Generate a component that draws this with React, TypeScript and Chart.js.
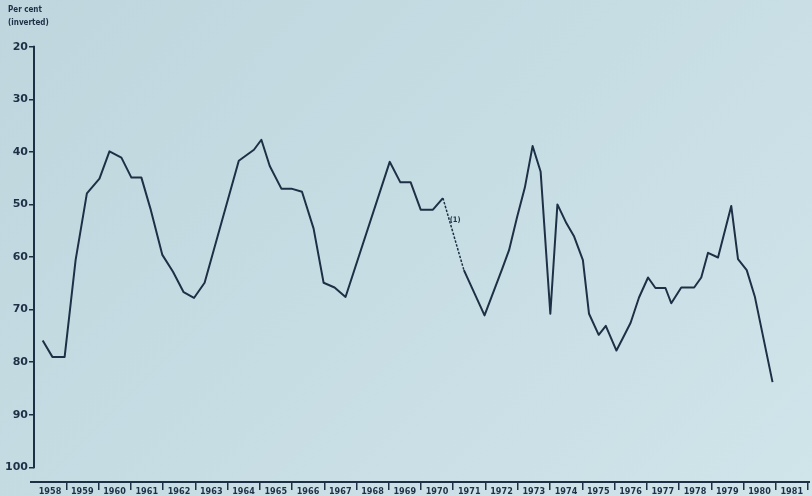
import React, { useEffect, useRef } from 'react';
import { Chart, registerables } from 'chart.js';

Chart.register(...registerables);

const periods = [
  1958.27, 1958.57, 1958.95, 1959.29, 1959.64, 1960.03, 1960.34, 1960.71, 1961.02, 1961.33,
  1961.61, 1961.98, 1962.31, 1962.64, 1962.96, 1963.29, 1964.35, 1964.82, 1965.05, 1965.31,
  1965.67, 1965.98, 1966.31, 1966.67, 1966.98, 1967.32, 1967.66, 1969.03, 1969.36, 1969.68,
  1969.99, 1970.37, 1970.68, 1971.33, 1971.97, 1972.52, 1972.73, 1972.98, 1973.22, 1973.46,
  1973.71, 1974.01, 1974.23, 1974.51, 1974.74, 1975.02, 1975.21, 1975.51, 1975.73, 1976.06,
  1976.26, 1976.5, 1976.76, 1977.04, 1977.27, 1977.58, 1977.76, 1978.07, 1978.47, 1978.69,
  1978.9, 1979.21, 1979.62, 1979.83, 1980.1, 1980.35, 1980.9,
];
const values = [
  75.9, 79.0, 79.0, 60.6, 47.9, 45.1, 39.9, 41.1, 44.9, 44.9,
  50.8, 59.6, 62.8, 66.7, 67.8, 64.9, 41.7, 39.6, 37.7, 42.7,
  47.0, 47.0, 47.6, 54.6, 64.9, 65.8, 67.6, 41.9, 45.8, 45.8,
  51.0, 51.0, 48.8, 62.5, 71.1, 62.2, 58.7, 52.4, 46.8, 38.9,
  43.8, 70.8, 50.0, 53.6, 56.0, 60.6, 70.8, 74.8, 73.1, 77.8,
  75.4, 72.5, 67.7, 63.9, 65.9, 65.9, 68.8, 65.8, 65.8, 63.9,
  59.2, 60.1, 50.3, 60.4, 62.5, 67.5, 83.8,
];

const yearTicks = [
  1958, 1959, 1960, 1961, 1962, 1963, 1964, 1965, 1966, 1967, 1968, 1969, 1970,
  1971, 1972, 1973, 1974, 1975, 1976, 1977, 1978, 1979, 1980, 1981, 1982,
];
const yearLabels = [
  '1958', '1959', '1960', '1961', '1962', '1963', '1964', '1965', '1966', '1967', '1968', '1969', '1970',
  '1971', '1972', '1973', '1974', '1975', '1976', '1977', '1978', '1979', '1980', '1981', '',
];
const valueTicks = [20, 30, 40, 50, 60, 70, 80, 90, 100];

const yTitle = ['Per cent', '(inverted)'];
const dashedFrom = 1970.68;
const dashedTo = 1971.33;
const noteText = '(1)';
const noteYear = 1971.06;
const noteValue = 53.0;

const INK = '#1e3045';
const FONT = "'DejaVu Sans Condensed', 'DejaVu Sans', sans-serif";

const axisPlugin = {
  id: 'handAxes',
  beforeDatasetsDraw(chart: any) {
    const { ctx, chartArea, scales } = chart;
    const y = scales.y;
    ctx.save();
    ctx.strokeStyle = INK;
    ctx.lineWidth = 2;
    ctx.beginPath();
    ctx.moveTo(chartArea.left, y.getPixelForValue(valueTicks[0]) - 1);
    ctx.lineTo(chartArea.left, y.getPixelForValue(valueTicks[valueTicks.length - 1]) + 1);
    ctx.stroke();
    ctx.beginPath();
    ctx.moveTo(chartArea.left - 4, chartArea.bottom);
    ctx.lineTo(chartArea.right + 2, chartArea.bottom);
    ctx.stroke();
    ctx.restore();
  },
  afterDraw(chart: any) {
    const { ctx, scales } = chart;
    ctx.save();
    ctx.fillStyle = INK;
    ctx.textBaseline = 'top';
    ctx.textAlign = 'left';
    ctx.font = `bold 8px ${FONT}`;
    ctx.fillText(yTitle[0], 8, 6);
    ctx.fillText(yTitle[1], 8, 19);
    ctx.textAlign = 'center';
    ctx.textBaseline = 'middle';
    ctx.font = `bold 7.5px ${FONT}`;
    ctx.fillText(noteText, scales.x.getPixelForValue(noteYear), scales.y.getPixelForValue(noteValue));
    ctx.restore();
  },
};

export default function App() {
  const ref = useRef<HTMLCanvasElement | null>(null);

  useEffect(() => {
    if (!ref.current) return;
    const isDashed = (c: any) =>
      periods[c.p0DataIndex] >= dashedFrom && periods[c.p1DataIndex] <= dashedTo;
    const chart = new Chart(ref.current, {
      type: 'line',
      data: {
        datasets: [
          {
            data: periods.map((p, i) => ({ x: p, y: values[i] })),
            borderColor: INK,
            borderWidth: 2,
            pointRadius: 0,
            tension: 0,
            fill: false,
            borderJoinStyle: 'round',
            segment: {
              borderDash: (c: any) => (isDashed(c) ? [2.5, 1.5] : undefined),
              borderWidth: (c: any) => (isDashed(c) ? 1.5 : undefined),
            },
          } as any,
        ],
      },
      options: {
        animation: false,
        responsive: false,
        devicePixelRatio: 1,
        layout: { padding: { top: 46.7, right: 4, bottom: 0, left: 0 } },
        plugins: { legend: { display: false }, tooltip: { enabled: false }, title: { display: false } },
        scales: {
          x: {
            type: 'linear',
            position: 'bottom',
            min: 1958,
            max: 1982,
            afterBuildTicks: (s: any) => {
              s.ticks = yearTicks.map((v) => ({ value: v }));
            },
            afterFit: (s: any) => {
              s.height = 14;
            },
            grid: {
              display: true,
              drawOnChartArea: false,
              drawTicks: true,
              tickLength: 8,
              lineWidth: 1.5,
              color: (c: any) => (c.index === 0 ? 'rgba(0,0,0,0)' : INK),
            },
            border: { display: false },
            ticks: {
              autoSkip: false,
              maxRotation: 0,
              minRotation: 0,
              labelOffset: 16,
              padding: -4,
              color: INK,
              font: { family: FONT, size: 9, weight: 'bold' },
              callback: (_v: any, i: number) => yearLabels[i],
            },
          },
          y: {
            type: 'linear',
            reverse: true,
            min: 20,
            max: 102.8,
            afterBuildTicks: (s: any) => {
              s.ticks = valueTicks.map((v) => ({ value: v }));
            },
            afterFit: (s: any) => {
              s.width = 34;
            },
            grid: {
              display: true,
              drawOnChartArea: false,
              drawTicks: true,
              tickLength: 5,
              lineWidth: 1.5,
              color: INK,
            },
            border: { display: false },
            ticks: {
              padding: 1,
              color: INK,
              font: { family: "'DejaVu Sans', sans-serif", size: 11, weight: 'bold' },
              callback: (v: any) => String(v),
            },
          },
        },
      } as any,
      plugins: [axisPlugin],
    });
    return () => chart.destroy();
  }, []);

  return (
    <div
      style={{
        position: 'fixed',
        left: 0,
        top: 0,
        width: 812,
        height: 496,
        background: 'linear-gradient(135deg, #bfd6de 0%, #c7dde4 50%, #d0e5ea 100%)',
      }}
    >
      <canvas ref={ref} width={812} height={496} style={{ display: 'block' }} />
    </div>
  );
}
